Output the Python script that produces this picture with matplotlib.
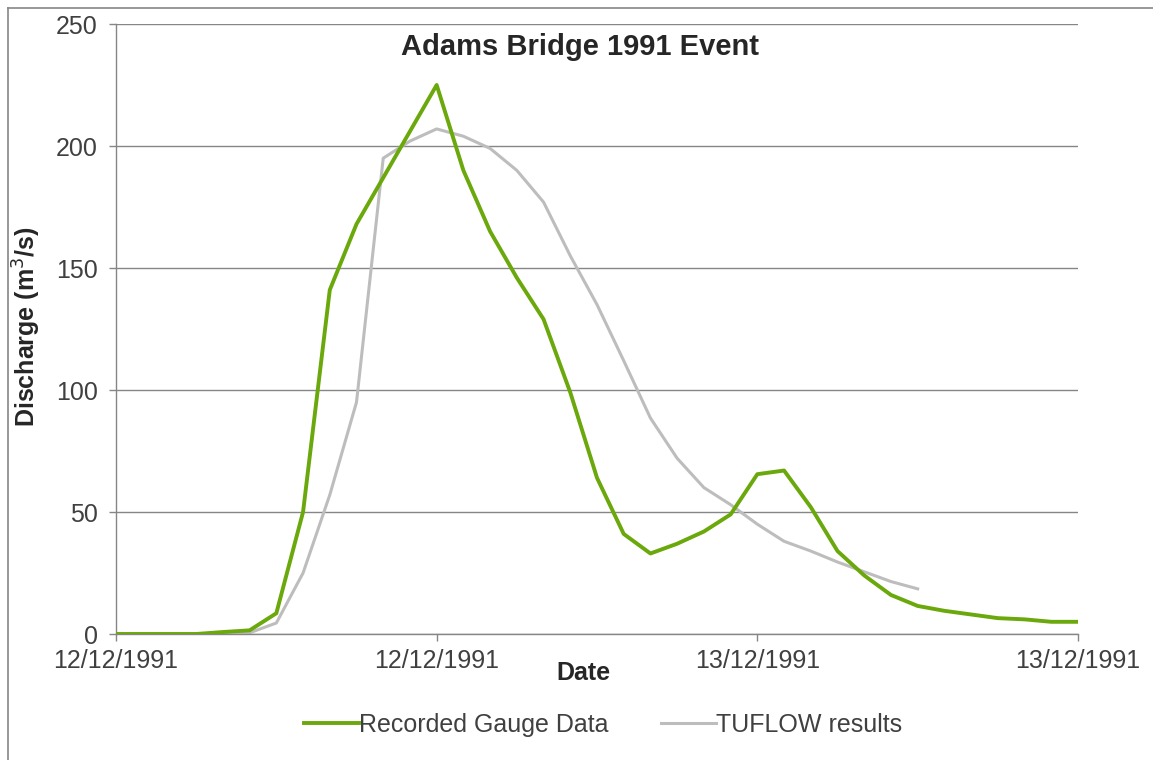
import matplotlib
matplotlib.use("Agg")
import matplotlib.pyplot as plt
from matplotlib.lines import Line2D

plt.rcParams['font.family'] = ['Liberation Sans', 'DejaVu Sans']

# hours since start of 12/12/1991
hours_gauge = list(range(0, 37))
gauge = [0, 0, 0, 0, 0.8, 1.5, 8.5, 50, 141, 168, 187, 206, 225, 190, 165, 146, 129,
         99, 64, 41, 33, 37, 42, 49, 65.5, 67, 52, 34, 24, 16, 11.5, 9.5, 8, 6.5, 6, 5, 5]

hours_tuflow = list(range(0, 31))
tuflow = [0, 0, 0, 0, 0, 0.5, 4.5, 25, 57, 95, 195, 202, 207, 204, 199, 190, 177,
          155, 135, 112, 88.5, 72, 60, 53, 45, 38, 34, 29.5, 25.5, 21.5, 18.5]

tick_hours = [0, 12, 24, 36]
tick_labels = ['12/12/1991', '12/12/1991', '13/12/1991', '13/12/1991']
y_ticks = [0, 50, 100, 150, 200, 250]

green = '#6aa80c'
grey = '#bdbdbd'
axis_col = '#868686'
txt = '#404040'

W, H = 1153, 760
fig = plt.figure(figsize=(W / 100, H / 100), dpi=100)
ax = fig.add_axes([116 / W, 1 - 634 / H, (1078 - 116) / W, (634 - 24) / H])

ax.plot(hours_gauge, gauge, color=green, lw=2.8, label='Recorded Gauge Data', zorder=3)
ax.plot(hours_tuflow, tuflow, color=grey, lw=2.2, label='TUFLOW results', zorder=2)

ax.set_xlim(0, 36)
ax.set_ylim(0, 250)
ax.set_xticks(tick_hours)
ax.set_xticklabels(tick_labels)
ax.set_yticks(y_ticks)
ax.yaxis.grid(True, color=axis_col, lw=1.0)
ax.set_axisbelow(True)
for s in ['top', 'right']:
    ax.spines[s].set_visible(False)
for s in ['left', 'bottom']:
    ax.spines[s].set_color(axis_col)
    ax.spines[s].set_linewidth(1.0)
ax.tick_params(axis='both', colors=axis_col, labelcolor=txt, labelsize=18,
               length=5, width=1.0, direction='out')
ax.tick_params(axis='x', pad=6)
ax.tick_params(axis='y', pad=8)

fig.text(580 / W, 1 - 55 / H, 'Adams Bridge 1991 Event', ha='center', va='baseline',
         fontsize=21, fontweight='bold', color='#262626')
fig.text(583 / W, 1 - 673 / H, 'Date', ha='center', va='center',
         fontsize=18, fontweight='bold', color='#262626')
fig.text(27 / W, 1 - 327 / H, 'Discharge (m$^3$/s)', ha='center', va='center',
         rotation=90, fontsize=18, fontweight='bold', color='#262626')

handles, labels = ax.get_legend_handles_labels()
leg = fig.legend(handles, labels, loc='center', bbox_to_anchor=(603 / W, 1 - 725 / H),
                 ncol=2, frameon=False, fontsize=18, handlelength=2.2,
                 handletextpad=0.0, columnspacing=2.1)
for t in leg.get_texts():
    t.set_color(txt)

# outer chart frame (left and top edges visible)
fig.add_artist(Line2D([7.5 / W, 7.5 / W], [0, 1 - 8 / H], color=axis_col, lw=1.2))
fig.add_artist(Line2D([7.5 / W, 1], [1 - 8 / H, 1 - 8 / H], color=axis_col, lw=1.2))

fig.savefig('out.png', dpi=100)
